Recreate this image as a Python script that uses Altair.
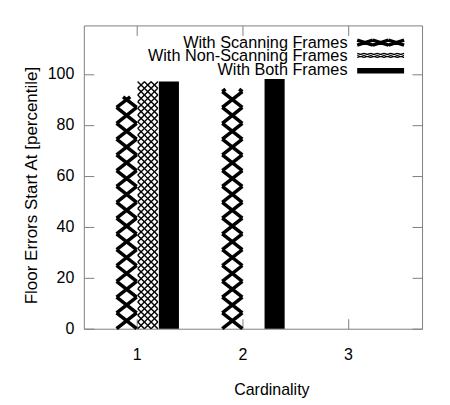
import altair as alt
import pandas as pd

# ---- data ----
categories = [1, 2, 3]
series = ["With Scanning Frames", "With Non-Scanning Frames", "With Both Frames"]
scanning = [91, 94, 0]
non_scanning = [97, 0, 0]
both = [97, 98, 0]
x_ticks = [1, 2, 3]
y_ticks = [0, 20, 40, 60, 80, 100]

rows = []
for i, (name, vals) in enumerate(zip(series, [scanning, non_scanning, both])):
    for c, v in zip(categories, vals):
        rows.append({"cat": c, "series": name, "idx": i, "value": v})
df = pd.DataFrame(rows)

# ---- layout / style ----
FONT = "Liberation Sans"
GREY = "#808080"
BAR_W = 0.19
SLOT = 0.2
START = -0.19
S1 = 6.2      # scanning pattern period (y units)
S2 = 2.62     # cross-hatch period (y units)
CW = BAR_W / 3

xs = alt.Scale(domain=[0.5, 3.7], nice=False, zero=False)
ys = alt.Scale(domain=[0, 119], nice=False, zero=False)

bottom_axis = alt.Axis(
    orient="bottom", values=x_ticks, format="d", offset=-10, tickSize=10,
    domain=False, grid=False, tickColor=GREY, labelPadding=18,
    labelFont=FONT, labelFontSize=16, labelColor="black",
    title="Cardinality", titleFont=FONT, titleFontSize=16, titleFontWeight="normal",
    titleColor="black", titleX=188, titleY=76, titleAlign="center",
    titleBaseline="alphabetic",
)
left_axis = alt.Axis(
    orient="left", values=y_ticks, offset=-10, tickSize=10,
    domain=False, grid=False, tickColor=GREY, labelPadding=10,
    labelFont=FONT, labelFontSize=16, labelColor="black",
    title="Floor Errors Start At [percentile]", titleFont=FONT, titleFontSize=17,
    titleFontWeight="normal", titleColor="black", titleX=-62, titleY=160,
    titleAlign="center", titleBaseline="middle", titleAngle=270,
)
top_axis = alt.Axis(
    orient="top", values=x_ticks, offset=-10, tickSize=10, domain=False,
    grid=False, labels=False, tickColor=GREY, title=None,
)
right_axis = alt.Axis(
    orient="right", values=y_ticks, offset=-10, tickSize=10, domain=False,
    grid=False, labels=False, tickColor=GREY, title=None,
)

base = alt.Chart(df).transform_calculate(
    x0=f"datum.cat + ({START}) + datum.idx * {SLOT}"
).transform_calculate(x1=f"datum.x0 + {BAR_W}")

# solid bars
both_bars = base.transform_filter("datum.idx == 2 && datum.value > 0").mark_rect(
    color="black"
).encode(
    x=alt.X("x0:Q", scale=xs, axis=bottom_axis),
    x2="x1:Q",
    y=alt.Y("value:Q", scale=ys, axis=left_axis),
    y2=alt.datum(0),
)

# scanning pattern: big X cells
scan = (
    base.transform_filter("datum.idx == 0")
    .transform_calculate(k=f"sequence(0, datum.value, {S1})")
    .transform_flatten(["k"])
    .transform_calculate(d="[0, 1]")
    .transform_flatten(["d"])
    .transform_calculate(top=f"min(datum.k + {S1}, datum.value)")
    .transform_calculate(frac=f"(datum.top - datum.k) / {S1}")
    .transform_calculate(
        xa="datum.d == 0 ? datum.x0 : datum.x1",
        xb=f"datum.d == 0 ? datum.x0 + {BAR_W} * datum.frac : datum.x1 - {BAR_W} * datum.frac",
    )
    .mark_rule(color="black", strokeWidth=3.5)
    .encode(
        x=alt.X("xa:Q", scale=xs, axis=top_axis),
        x2="xb:Q",
        y=alt.Y("k:Q", scale=ys, axis=right_axis),
        y2="top:Q",
    )
)

# non-scanning pattern: fine cross-hatch
hatch = (
    base.transform_filter("datum.idx == 1")
    .transform_calculate(k=f"sequence(0, datum.value, {S2})")
    .transform_flatten(["k"])
    .transform_calculate(c="[0, 1, 2]")
    .transform_flatten(["c"])
    .transform_calculate(d="[0, 1]")
    .transform_flatten(["d"])
    .transform_calculate(top=f"min(datum.k + {S2}, datum.value)")
    .transform_calculate(frac=f"(datum.top - datum.k) / {S2}")
    .transform_calculate(left=f"datum.x0 + datum.c * {CW}")
    .transform_calculate(
        xa=f"datum.d == 0 ? datum.left : datum.left + {CW}",
        xb=f"datum.d == 0 ? datum.left + {CW} * datum.frac : datum.left + {CW} - {CW} * datum.frac",
    )
    .mark_rule(color="black", strokeWidth=1.4)
    .encode(
        x=alt.X("xa:Q", scale=xs, axis=None),
        x2="xb:Q",
        y=alt.Y("k:Q", scale=ys, axis=None),
        y2="top:Q",
    )
)

# ---- key (legend) ----
def x_cells_path(ncols, nrows, h):
    parts = []
    for r in range(nrows):
        y0 = -h + 2 * h * r / nrows
        y1 = -h + 2 * h * (r + 1) / nrows
        for i in range(ncols):
            a = -1 + 2 * i / ncols
            b = -1 + 2 * (i + 1) / ncols
            parts.append(
                f"M{a:.4f},{y0:.4f}L{b:.4f},{y1:.4f}M{b:.4f},{y0:.4f}L{a:.4f},{y1:.4f}"
            )
    return "".join(parts)

SAMPLE_W = 47
scan_path = x_cells_path(3, 1, 5.0 / SAMPLE_W)
hatch_path = x_cells_path(7, 2, 4.3 / SAMPLE_W)
rect_h = 5.5 / SAMPLE_W
rect_path = f"M-1,{-rect_h:.4f}L1,{-rect_h:.4f}L1,{rect_h:.4f}L-1,{rect_h:.4f}Z"

key_x_text = 264.3
key_x_sample = 297.5
text_y = [22.3, 35.5, 50.0]
sample_y = [17.3, 30.0, 45.5]
sample_paths = [scan_path, hatch_path, rect_path]
sample_stroke = [3.5, 1.2, 0]
sample_filled = [False, False, True]

key_layers = []
for i, name in enumerate(series):
    kd = pd.DataFrame({"label": [name]})
    key_layers.append(
        alt.Chart(kd).mark_text(
            align="right", baseline="alphabetic", font=FONT, fontSize=16.3, color="black"
        ).encode(x=alt.value(key_x_text), y=alt.value(text_y[i]), text="label:N")
    )
    key_layers.append(
        alt.Chart(kd).mark_point(
            shape=sample_paths[i], size=SAMPLE_W ** 2, filled=sample_filled[i],
            color="black", strokeWidth=sample_stroke[i], opacity=1,
        ).encode(x=alt.value(key_x_sample), y=alt.value(sample_y[i]))
    )

chart = (
    alt.layer(both_bars, scan, hatch, *key_layers)
    .resolve_axis(x="independent", y="independent")
    .properties(
        width=339,
        height=304,
        padding={"left": 76, "top": 17, "right": 20, "bottom": 70},
        autosize=alt.AutoSizeParams(type="none"),
    )
    .configure_view(stroke=GREY, strokeWidth=1)
)

chart.save("out.html", embed_options={"renderer": "svg", "actions": False})
